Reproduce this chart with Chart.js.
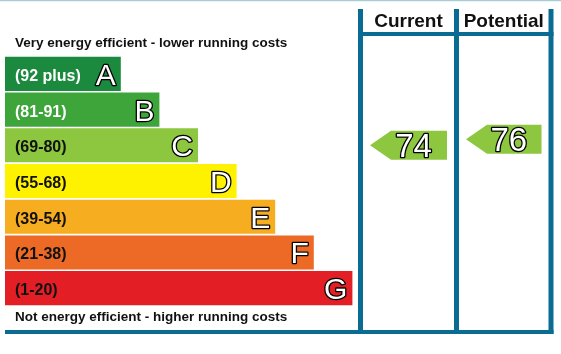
<!DOCTYPE html>
<html>
<head>
<meta charset="utf-8">
<script src="https://cdn.jsdelivr.net/npm/chart.js@4"></script>
<style>
    body { margin: 0; background: #ffffff; }
    #epc { display: block; }
</style>
</head>
<body>
<canvas id="epc" width="561" height="354"></canvas>
<script>
// Energy rating bands, top (most efficient) to bottom
var bands = ['A', 'B', 'C', 'D', 'E', 'F', 'G'];
var bandRanges = ['(92 plus)', '(81-91)', '(69-80)', '(55-68)', '(39-54)', '(21-38)', '(1-20)'];
var bandLow = [92, 81, 69, 55, 39, 21, 1];
var bandHigh = [100, 91, 80, 68, 54, 38, 20];
var bandLengths = [3, 4, 5, 6, 7, 8, 9]; // bar length in steps
var bandColors = ['#1b8a3e', '#3ea53b', '#8dc63f', '#fff200', '#f6ad1f', '#ec6a25', '#e31e25'];
var bandTextColors = ['#ffffff', '#ffffff', '#111111', '#111111', '#111111', '#111111', '#111111'];

// Ratings shown in the table columns
var columnTitles = ['Current', 'Potential'];
var ratings = [74, 76];

var topText = 'Very energy efficient - lower running costs';
var bottomText = 'Not energy efficient - higher running costs';

var frameBlue = '#0b6c93';
var columnLines = [360.5, 456.5, 551]; // x centres of the column rules

function bandIndex(value) {
    for (var i = 0; i < bands.length; i++) {
        if (value >= bandLow[i]) {
            return i;
        }
    }
    return bands.length - 1;
}

// white text with a black outline
function outlinedText(ctx, text, x, y) {
    ctx.fillStyle = '#ffffff';
    ctx.strokeStyle = '#000000';
    ctx.lineJoin = 'round';
    ctx.lineWidth = 2.6;
    ctx.strokeText(text, x, y);
    ctx.fillText(text, x, y);
}

// Text for bars, heading lines and the table with arrows
var epcPlugin = {
    id: 'epc',
    afterDatasetsDraw: function(chart) {
        var ctx = chart.ctx;
        var area = chart.chartArea;
        var bars = chart.getDatasetMeta(0).data;
        ctx.save();
        for (var i = 0; i < bars.length; i++) {
            var bar = bars[i];
            ctx.font = 'bold 16px "Liberation Sans", Arial, sans-serif';
            ctx.fillStyle = bandTextColors[i];
            ctx.textAlign = 'left';
            ctx.textBaseline = 'alphabetic';
            ctx.fillText(bandRanges[i], area.left + 10, bar.y + 7);

            ctx.font = '30px "Liberation Sans", Arial, sans-serif';
            ctx.textAlign = 'right';
            outlinedText(ctx, bands[i], bar.x - 5, bar.y + 11);
        }

        ctx.font = 'bold 13.5px "Liberation Sans", Arial, sans-serif';
        ctx.fillStyle = '#111111';
        ctx.textAlign = 'left';
        ctx.fillText(topText, 15, 47);
        ctx.fillText(bottomText, 15, 321);

        // frame
        ctx.fillStyle = '#a9cbd8';
        ctx.fillRect(0, 0, chart.width, 1.2);
        ctx.strokeStyle = frameBlue;
        ctx.lineWidth = 5;
        ctx.beginPath();
        for (var c = 0; c < columnLines.length; c++) {
            ctx.moveTo(columnLines[c], 9);
            ctx.lineTo(columnLines[c], 334);
        }
        ctx.stroke();
        ctx.lineWidth = 4;
        ctx.beginPath();
        ctx.moveTo(358, 34);
        ctx.lineTo(553.5, 34);
        ctx.moveTo(5, 332);
        ctx.lineTo(553.5, 332);
        ctx.stroke();

        // column titles and rating arrows
        var yScale = chart.scales.y;
        for (var k = 0; k < columnTitles.length; k++) {
            var left = columnLines[k] + 2.5 + 7;
            var right = columnLines[k + 1] - 2.5 - 7;
            ctx.font = 'bold 19px "Liberation Sans", Arial, sans-serif';
            ctx.fillStyle = '#111111';
            ctx.textAlign = 'center';
            ctx.fillText(columnTitles[k], (left + right) / 2, 26.5);

            var b = bandIndex(ratings[k]);
            var frac = (bandHigh[b] - ratings[k]) / (bandHigh[b] - bandLow[b] + 1);
            var y = yScale.getPixelForValue(b + frac - 0.5);
            var half = 14.5;
            ctx.fillStyle = bandColors[b];
            ctx.beginPath();
            ctx.moveTo(left, y);
            ctx.lineTo(left + 21, y - half);
            ctx.lineTo(right, y - half);
            ctx.lineTo(right, y + half);
            ctx.lineTo(left + 21, y + half);
            ctx.closePath();
            ctx.fill();

            ctx.font = '33px "Liberation Sans", Arial, sans-serif';
            outlinedText(ctx, String(ratings[k]), (left + right) / 2 + 5, y + 12);
        }
        ctx.restore();
    }
};

var chart = new Chart(document.getElementById('epc'), {
    type: 'bar',
    data: {
        labels: bands,
        datasets: [{
            data: bandLengths,
            backgroundColor: bandColors,
            borderWidth: 0,
            categoryPercentage: 1,
            barPercentage: 0.955
        }]
    },
    options: {
        indexAxis: 'y',
        responsive: false,
        animation: false,
        events: [],
        layout: {
            padding: { top: 56, bottom: 48, left: 5, right: 15.6 }
        },
        scales: {
            x: { display: false, min: 0, max: 14 },
            y: { display: false }
        },
        plugins: {
            legend: { display: false },
            tooltip: { enabled: false }
        }
    },
    plugins: [epcPlugin]
});
</script>
</body>
</html>
